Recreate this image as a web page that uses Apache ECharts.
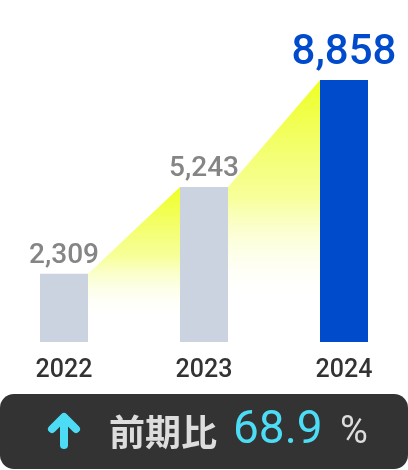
<!DOCTYPE html>
<html>
<head>
<meta charset="utf-8">
<script src="https://cdn.jsdelivr.net/npm/echarts@6/dist/echarts.min.js"></script>
<style>
  html, body { margin: 0; padding: 0; background: #fff; }
  #chart { width: 408px; height: 470px; }
</style>
</head>
<body>
<div id="chart"></div>
<script>
// data
const years = ['2022', '2023', '2024'];
const sales = [2309, 5243, 8858];
const changeLabel = '前期比';
const changeRate = 68.9;

const BAR_W = 48;
const gray = '#cbd2e0';
const blue = '#004bcc';
const cyan = '#4ddcf6';

const chart = echarts.init(document.getElementById('chart'));

// segments between neighbouring bars
const segments = [];
for (let i = 1; i < sales.length; i++) {
  segments.push([i - 1, sales[i - 1], i, sales[i]]);
}

function renderSegment(params, api) {
  const a = api.coord([api.value(0), api.value(1)]);
  const b = api.coord([api.value(2), api.value(3)]);
  const base = api.coord([api.value(0), 0]);
  const h = BAR_W / 2;
  return {
    type: 'polygon',
    shape: {
      points: [
        [a[0] + h, a[1]],
        [b[0] - h, b[1]],
        [b[0] - h, base[1]],
        [a[0] + h, base[1]]
      ]
    },
    style: {
      fill: {
        type: 'linear', x: 0, y: 0, x2: 0, y2: 1,
        colorStops: [
          { offset: 0, color: 'rgba(238,255,34,1)' },
          { offset: 0.45, color: 'rgba(244,255,120,0.75)' },
          { offset: 0.85, color: 'rgba(255,255,255,0)' }
        ]
      }
    }
  };
}

const last = sales.length - 1;

chart.setOption({
  animation: false,
  grid: { left: 64, right: 64, top: 80, bottom: 128 },
  xAxis: {
    type: 'category',
    data: years,
    boundaryGap: false,
    axisLine: { show: false },
    axisTick: { show: false },
    axisLabel: {
      color: '#333',
      fontSize: 25,
      fontWeight: 500,
      fontFamily: 'Roboto',
      margin: 16
    }
  },
  yAxis: {
    type: 'value',
    min: 0,
    max: 'dataMax',
    show: false,
    splitLine: { show: false }
  },
  series: [
    {
      type: 'custom',
      renderItem: renderSegment,
      data: segments,
      encode: { x: [0, 2], y: [1, 3] },
      z: 1,
      silent: true
    },
    {
      type: 'bar',
      barWidth: BAR_W,
      z: 2,
      data: sales.map((v, i) => ({
        value: v,
        itemStyle: { color: i === last ? blue : gray },
        label: i === last ? {
          color: blue, fontSize: 42, fontWeight: 500, distance: 6
        } : {}
      })),
      label: {
        show: true,
        position: 'top',
        distance: 4,
        color: '#858585',
        fontSize: 28,
        fontWeight: 500,
        fontFamily: 'Roboto',
        formatter: p => p.value.toLocaleString('en-US')
      }
    }
  ],
  graphic: [
    {
      type: 'rect',
      shape: { x: 0, y: 394, width: 408, height: 75, r: 14 },
      style: { fill: '#333333' }
    },
    {
      type: 'polyline',
      shape: { points: [[64, 445], [64, 418]] },
      style: { stroke: cyan, lineWidth: 8, lineCap: 'round' }
    },
    {
      type: 'polyline',
      shape: { points: [[52, 429], [64, 417], [76, 429]] },
      style: { stroke: cyan, lineWidth: 8, lineCap: 'round', lineJoin: 'round', fill: 'none' }
    },
    {
      type: 'text',
      x: 109, y: 432,
      style: {
        text: changeLabel,
        fill: '#dddddd',
        font: 'bold 36px "Noto Sans CJK JP"',
        textVerticalAlign: 'middle'
      }
    },
    {
      type: 'text',
      x: 233, y: 431,
      style: {
        text: String(changeRate),
        fill: cyan,
        font: '46px Roboto',
        textVerticalAlign: 'middle'
      }
    },
    {
      type: 'text',
      x: 340, y: 433,
      style: {
        text: '%',
        fill: '#dddddd',
        font: '38px Roboto',
        textVerticalAlign: 'middle'
      }
    }
  ]
});
</script>
</body>
</html>
